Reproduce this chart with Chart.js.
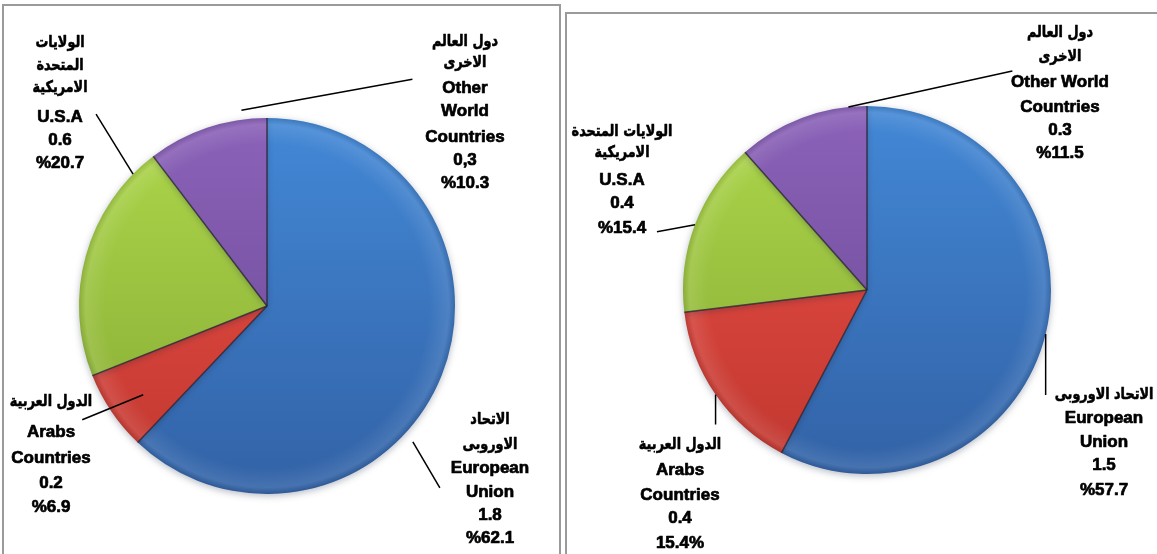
<!DOCTYPE html>
<html>
<head>
<meta charset="utf-8">
<script src="https://cdn.jsdelivr.net/npm/chart.js@4.4.0/dist/chart.umd.min.js"></script>
<style>
  body { margin: 0; background: #fff; width: 1157px; height: 554px; overflow: hidden; position: relative; }
  .box { position: absolute; border: 2px solid #9a9a9a; background: #fff; overflow: hidden; }
  #boxA { left: 2px; top: 4px; width: 555px; height: 600px; }
  #boxB { left: 565px; top: 12px; width: 620px; height: 600px; }
  canvas { position: absolute; left: 0; top: 0; }
</style>
</head>
<body>
<div class="box" id="boxA"><canvas id="chartA" width="555" height="548"></canvas></div>
<div class="box" id="boxB"><canvas id="chartB" width="590" height="540"></canvas></div>
<script>
// slice order: EU, Arabs, USA, Other
const categories = ['European Union', 'Arabs Countries', 'U.S.A', 'Other World Countries'];
const valuesA = [1.8, 0.2, 0.6, 0.3];
const valuesB = [1.5, 0.4, 0.4, 0.3];

// label text, one array of lines per slice
const namesA = [
  ['الاتحاد', 'الاوروبى', 'European', 'Union'],
  ['الدول العربية', 'Arabs', 'Countries'],
  ['الولايات', 'المتحدة', 'الامريكية', 'U.S.A'],
  ['دول العالم', 'الاخرى', 'Other', 'World', 'Countries']
];
const namesB = [
  ['الاتحاد الاوروبى', 'European', 'Union'],
  ['الدول العربية', 'Arabs', 'Countries'],
  ['الولايات المتحدة', 'الامريكية', 'U.S.A'],
  ['دول العالم', 'الاخرى', 'Other World', 'Countries']
];
const valueTextA = ['1.8', '0.2', '0.6', '0,3'];
const percentTextA = ['%62.1', '%6.9', '%20.7', '%10.3'];
const valueTextB = ['1.5', '0.4', '0.4', '0.3'];
const percentTextB = ['%57.7', '15.4%', '%15.4', '%11.5'];

const colors = [
  { top: '#4388d6', bottom: '#3262a6' },
  { top: '#ee5047', bottom: '#bf372f' },
  { top: '#aed84b', bottom: '#84a833' },
  { top: '#8b62b9', bottom: '#684690' }
];

// callout placement: text centre x, line y's, anchor on slice (fraction of angle, radius factor), leader offset
const layoutA = [
  { x: 486, ys: [414, 439, 462, 486, 509, 532], at: 0.595, r: 1.06, dx: 27, dy: 46 },
  { x: 47, ys: [396, 426, 452, 477, 501], at: 0.44, r: 0.81, dx: -61, dy: 25 },
  { x: 56, ys: [37, 60, 82, 111, 134, 157], at: 0.89, r: 1.0, dx: -37, dy: -60 },
  { x: 461, ys: [36, 57, 82, 105, 131, 154, 177], at: 0.80, r: 1.05, dx: 171, dy: -31 }
];
const layoutB = [
  { x: 537, ys: [381, 404, 428, 451, 476], at: 0.5, r: 1.0, dx: 0, dy: 61 },
  { x: 113, ys: [431, 456, 481, 504, 529], at: 0.5, r: 1.0, dx: 0, dy: 30 },
  { x: 55, ys: [118, 139, 166, 189, 214], at: 0.5, r: 1.0, dx: -38, dy: 7 },
  { x: 493, ys: [19, 43, 68, 93, 116, 139], at: 0.86, r: 1.0, dx: 164, dy: -36 }
];

const arabic = /[\u0600-\u06FF]/;

const pieCenter = chart => {
  const a = chart.chartArea;
  return { x: (a.left + a.right) / 2, y: (a.top + a.bottom) / 2, r: chart.options.radius };
};

// vertical shading per slice, light at the top of the pie, darker at the bottom
const sliceFill = context => {
  const chart = context.chart;
  const col = colors[context.dataIndex];
  if (!chart.chartArea) return col.top;
  const c = pieCenter(chart);
  const g = chart.ctx.createLinearGradient(0, c.y - c.r, 0, c.y + c.r);
  g.addColorStop(0, col.top);
  g.addColorStop(1, col.bottom);
  return g;
};

const pieStyle = {
  id: 'pieStyle',
  beforeDatasetsDraw(chart) {
    const ctx = chart.ctx;
    ctx.save();
    ctx.shadowColor = 'rgba(20,30,60,0.3)';
    ctx.shadowBlur = 7;
    ctx.shadowOffsetY = 2;
  },
  afterDatasetsDraw(chart, args, opts) {
    const ctx = chart.ctx;
    ctx.restore();
    const arcs = chart.getDatasetMeta(0).data;
    const c = pieCenter(chart);

    // bevel-like rim: faint highlight just inside the edge
    ctx.save();
    const rim = ctx.createRadialGradient(c.x, c.y, c.r * 0.86, c.x, c.y, c.r);
    rim.addColorStop(0, 'rgba(255,255,255,0)');
    rim.addColorStop(0.75, 'rgba(255,255,255,0.10)');
    rim.addColorStop(1, 'rgba(0,0,0,0.10)');
    ctx.beginPath();
    ctx.arc(c.x, c.y, c.r, 0, Math.PI * 2);
    ctx.fillStyle = rim;
    ctx.fill();

    // dark separators between slices
    ctx.strokeStyle = 'rgba(40,35,50,0.8)';
    ctx.lineWidth = 1.5;
    arcs.forEach(arc => {
      const p = arc.getProps(['x', 'y', 'startAngle', 'outerRadius'], true);
      ctx.beginPath();
      ctx.moveTo(p.x, p.y);
      ctx.lineTo(p.x + Math.cos(p.startAngle) * p.outerRadius, p.y + Math.sin(p.startAngle) * p.outerRadius);
      ctx.stroke();
    });

    // callouts
    opts.items.forEach((item, i) => {
      const p = arcs[i].getProps(['x', 'y', 'startAngle', 'endAngle', 'outerRadius'], true);
      const a = p.startAngle + (p.endAngle - p.startAngle) * item.at;
      const x0 = p.x + Math.cos(a) * p.outerRadius * item.r;
      const y0 = p.y + Math.sin(a) * p.outerRadius * item.r;
      ctx.beginPath();
      ctx.moveTo(x0, y0);
      ctx.lineTo(x0 + item.dx, y0 + item.dy);
      ctx.strokeStyle = '#000';
      ctx.lineWidth = 1.5;
      ctx.stroke();

      const lines = opts.names[i].concat([opts.values[i], opts.percents[i]]);
      ctx.fillStyle = '#000';
      ctx.strokeStyle = '#000';
      ctx.lineJoin = 'round';
      ctx.textAlign = 'center';
      ctx.textBaseline = 'middle';
      lines.forEach((t, k) => {
        let maxW;
        if (arabic.test(t)) {
          ctx.direction = 'rtl';
          ctx.font = 'bold 16px "DejaVu Sans", sans-serif';
          ctx.lineWidth = 0.6;
          maxW = ctx.measureText(t).width * 0.8;
        } else {
          ctx.direction = 'ltr';
          ctx.font = 'bold 17px "Liberation Sans", Arial, sans-serif';
          ctx.lineWidth = 0.7;
          maxW = ctx.measureText(t).width;
        }
        ctx.fillText(t, item.x, item.ys[k], maxW);
        ctx.strokeText(t, item.x, item.ys[k], maxW);
      });
    });
    ctx.restore();
  }
};

const makePie = (id, values, radius, padding, names, valueText, percentText, layout) => {
  return new Chart(document.getElementById(id), {
    type: 'pie',
    data: {
      labels: categories,
      datasets: [{
        data: values,
        backgroundColor: sliceFill,
        borderWidth: 0
      }]
    },
    options: {
      responsive: false,
      animation: false,
      devicePixelRatio: 1,
      events: [],
      radius: radius,
      layout: { padding: padding },
      plugins: {
        legend: { display: false },
        tooltip: { enabled: false },
        pieStyle: { names: names, values: valueText, percents: percentText, items: layout }
      }
    },
    plugins: [pieStyle]
  });
};

makePie('chartA', valuesA, 188, { left: 0, right: 29, top: 52, bottom: 0 }, namesA, valueTextA, percentTextA, layoutA);
makePie('chartB', valuesB, 184, { left: 10, right: 0, top: 12, bottom: 0 }, namesB, valueTextB, percentTextB, layoutB);
</script>
</body>
</html>
